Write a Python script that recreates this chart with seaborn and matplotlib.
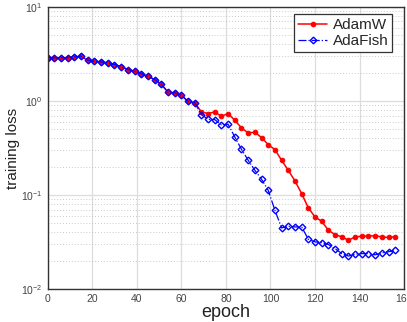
import numpy as np
import pandas as pd
import matplotlib
matplotlib.use("Agg")
import matplotlib.pyplot as plt
import seaborn as sns
from matplotlib.ticker import LogLocator, FixedLocator

sns.set_style("white")
plt.rcParams['font.family'] = ['Liberation Sans', 'DejaVu Sans']

epochs = list(range(0, 157, 3))

adamw = [2.87, 2.87, 2.89, 2.89, 2.94, 2.99, 2.71, 2.64, 2.60, 2.54,
         2.44, 2.30, 2.16, 2.07, 1.95, 1.83, 1.69, 1.51, 1.24, 1.22,
         1.15, 0.99, 0.96, 0.764, 0.735, 0.764, 0.687, 0.735, 0.623, 0.517,
         0.457, 0.465, 0.408, 0.343, 0.304, 0.234, 0.183, 0.141, 0.1035, 0.0728,
         0.0584, 0.0525, 0.0421, 0.0379, 0.0358, 0.0330, 0.0358, 0.0364, 0.0366, 0.0369,
         0.0358, 0.0353, 0.0361]

adafish = [2.87, 2.87, 2.89, 2.89, 2.94, 2.99, 2.71, 2.64, 2.60, 2.54,
           2.44, 2.30, 2.16, 2.07, 1.95, 1.83, 1.69, 1.51, 1.24, 1.22,
           1.15, 0.99, 0.96, 0.716, 0.638, 0.633, 0.556, 0.565, 0.414, 0.306,
           0.234, 0.183, 0.147, 0.112, 0.0688, 0.0446, 0.0465, 0.0457, 0.0457, 0.0338,
           0.0317, 0.0311, 0.0297, 0.0269, 0.0238, 0.0224, 0.0234, 0.0238, 0.0238, 0.0231,
           0.0242, 0.0249, 0.0258]

df_a = pd.DataFrame({"epoch": epochs, "loss": adamw})
df_f = pd.DataFrame({"epoch": epochs, "loss": adafish})

fig = plt.figure(figsize=(4.07, 3.22), dpi=100)
ax = fig.add_axes([0.117, 0.1025, 0.876, 0.876])

sns.lineplot(data=df_a, x="epoch", y="loss", ax=ax, color="#ff0000", lw=1.1,
             marker="o", markersize=3.3, markerfacecolor="#ff0000",
             markeredgecolor="#ff0000", label="AdamW")
sns.lineplot(data=df_f, x="epoch", y="loss", ax=ax, color="#0000ff", lw=0.9,
             linestyle="-.", marker="D", markersize=3.4, markerfacecolor="none",
             markeredgecolor="#0000ff", markeredgewidth=1.0, label="AdaFish")

ax.set_yscale("log")
ax.set_xlim(0, 160)
ax.set_ylim(1e-2, 1e1)
ax.xaxis.set_major_locator(FixedLocator(list(range(0, 161, 20))))
ax.yaxis.set_major_locator(LogLocator(base=10, numticks=10))
ax.yaxis.set_minor_locator(LogLocator(base=10, subs=np.arange(2, 10), numticks=20))

ax.grid(True, which="major", axis="both", color="#dddddd", lw=0.9, ls="-")
ax.grid(True, which="minor", axis="y", color="#b8b8b8", lw=0.6, ls=(0, (1, 2.5)))
ax.set_axisbelow(True)

ax.tick_params(which="both", direction="in", colors="#444444", labelsize=7.5,
               top=False, right=False, length=3, width=0.8)
ax.tick_params(which="minor", length=1.5)
for s in ax.spines.values():
    s.set_color("#333333")
    s.set_linewidth(1.0)

ax.set_xlabel("epoch", fontsize=13, labelpad=0, color="#222222")
ax.set_ylabel("training loss", fontsize=11, labelpad=1, color="#222222")

leg = ax.legend(loc="upper right", fontsize=11, frameon=True, fancybox=False,
                edgecolor="#333333", framealpha=1, handlelength=1.9,
                borderpad=0.25, labelspacing=0.15, handletextpad=0.35,
                borderaxespad=0.2, bbox_to_anchor=(0.975, 0.985))
leg.get_frame().set_linewidth(0.9)

fig.savefig("out.png", dpi=100)
